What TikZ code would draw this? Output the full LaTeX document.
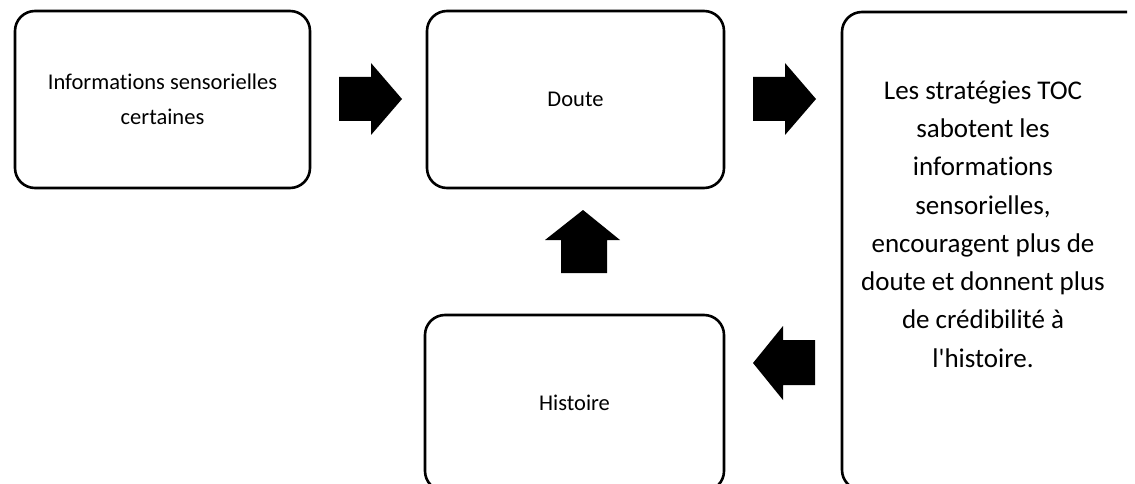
\documentclass[tikz,border=0pt]{standalone}
\usepackage{fontspec}
\setmainfont{Carlito}[Ligatures={NoCommon,TeXOff}]
\begin{document}
\begin{tikzpicture}[x=1pt,y=-1pt,
  box/.style={draw=black, line width=2.6pt, rounded corners=20pt, fill=none,
    inner sep=0pt, align=center},
  smalltxt/.style={font=\fontsize{22.5}{34.5}\selectfont, align=center},
  bigtxt/.style={font=\fontsize{27}{38.3}\selectfont, align=center},
  blockarrow/.style={fill=black, draw=none}]
\useasboundingbox (0,0) rectangle (1135,484);
\fill[white] (0,0) rectangle (1135,484);

\node[box, minimum width=295pt, minimum height=177pt] (info) at (162.5,99.5) {};
\node[smalltxt] (infot) at (info.center) {Informations sensorielles\\certaines};

\node[box, minimum width=297pt, minimum height=177pt] (doute) at (575.5,99.5) {};
\node[smalltxt] (doutet) at (doute.center) {Doute};

\node[box, minimum width=299pt, minimum height=176pt] (hist) at (574.5,403) {};
\node[smalltxt] (histt) at (hist.center) {Histoire};

\begin{scope}
\clip (0,0) rectangle (1127,484);
\node[box, minimum width=318pt, minimum height=478pt] (toc) at (1001,251) {};
\end{scope}
\node[bigtxt] (toct) at (983,224) {Les stratégies TOC\\sabotent les\\informations\\sensorielles,\\encouragent plus de\\doute et donnent plus\\de crédibilité à\\l'histoire.};

% block arrows
\fill[blockarrow] (339,77) -- (371,77) -- (371,63) -- (402,99) -- (371,135) -- (371,121) -- (339,121) -- cycle;
\fill[blockarrow] (753,77) -- (785,77) -- (785,63) -- (816,99) -- (785,135) -- (785,121) -- (753,121) -- cycle;
\fill[blockarrow] (561,273) -- (561,240) -- (545,240) -- (583,210) -- (620,240) -- (607,240) -- (607,273) -- cycle;
\fill[blockarrow] (815,340) -- (783,340) -- (783,326) -- (753,363) -- (783,400) -- (783,385) -- (815,385) -- cycle;
\end{tikzpicture}
\end{document}
